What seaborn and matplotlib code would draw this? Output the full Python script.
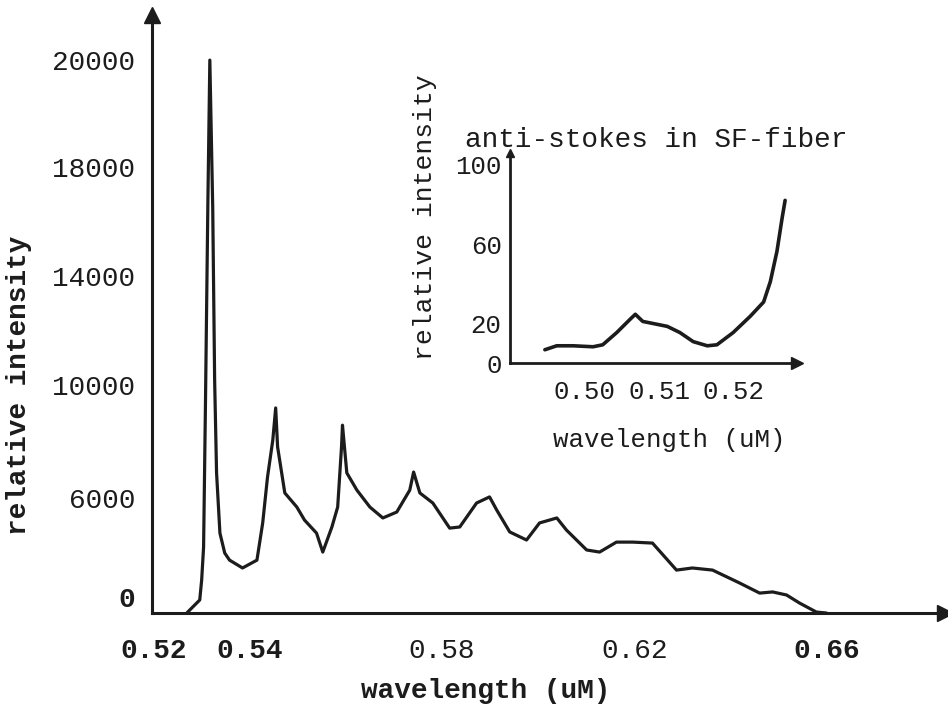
import numpy as np
import pandas as pd
import seaborn as sns
import matplotlib
matplotlib.use("Agg")
from matplotlib import pyplot as plt
from matplotlib import transforms

# main spectrum (stokes side)
wavelength = [0.5269, 0.5296, 0.5300, 0.5304, 0.5308, 0.5313, 0.5317, 0.5323, 0.5327,
              0.5331, 0.5338, 0.5348, 0.5358, 0.5385, 0.5415, 0.5427, 0.5437, 0.5448,
              0.5454, 0.5458, 0.5473, 0.5498, 0.5514, 0.5539, 0.5552, 0.5571, 0.5583,
              0.5591, 0.5593, 0.5602, 0.5623, 0.5650, 0.5677, 0.5706, 0.5733, 0.5741,
              0.5754, 0.5781, 0.5816, 0.5837, 0.5872, 0.5899, 0.5914, 0.5941, 0.5976,
              0.6003, 0.6039, 0.6059, 0.6101, 0.6128, 0.6163, 0.6197, 0.6238, 0.6288,
              0.6321, 0.6363, 0.6419, 0.6461, 0.6488, 0.6517, 0.6544, 0.6579, 0.6600]
intensity = [0, 680, 1720, 3440, 9470, 16790, 20000, 16530, 10180,
             6890, 4170, 3130, 2760, 2350, 2760, 4700, 6740, 8050,
             9190, 7810, 6180, 5530, 4850, 4170, 3180, 4490, 5530,
             7810, 8580, 6890, 6280, 5530, 4960, 5270, 6280, 6920,
             6180, 5740, 4430, 4490, 5740, 6040, 5370, 4230, 3810,
             4700, 4960, 4330, 3290, 3180, 3700, 3700, 3650, 2240,
             2350, 2240, 1570, 1040, 1100, 940, 520, 50, 0]

# inset: anti-stokes in SF-fiber
as_wavelength = [0.4946, 0.4962, 0.4984, 0.5011, 0.5024, 0.5043, 0.5061, 0.5068, 0.5078,
                 0.5111, 0.5128, 0.5146, 0.5165, 0.5178, 0.5200, 0.5223, 0.5241, 0.5250,
                 0.5259, 0.5266, 0.5270]
as_intensity = [6.7, 8.7, 8.7, 8.2, 9.2, 15.4, 22.1, 24.6, 21.0,
                18.5, 15.4, 10.8, 8.7, 9.2, 15.4, 23.6, 30.8, 41.0,
                56.4, 73.3, 82.1]

x_ticks = [0.52, 0.54, 0.58, 0.62, 0.66]
x_tick_labels = ["0.52", "0.54", "0.58", "0.62", "0.66"]
y_ticks = [0, 6000, 10000, 14000, 18000, 20000]
y_tick_labels = ["0", "6000", "10000", "14000", "18000", "20000"]
inset_x_ticks = [0.50, 0.51, 0.52]
inset_y_ticks = [0, 20, 40, 60, 80, 100]
inset_y_labels = ["0", "20", "", "60", "", "100"]

# the hand drawn y axis has evenly spaced labels that are not evenly spaced values
scale_vals = np.array([0, 6000, 10000, 14000, 18000, 20000, 22000], dtype=float)
scale_pos = np.array([0, 115, 228, 337, 446, 553, 660], dtype=float)


def fwd(v):
    return np.interp(v, scale_vals, scale_pos)


def inv(p):
    return np.interp(p, scale_pos, scale_vals)


sns.set_style("white")
plt.rcParams['font.family'] = ['Liberation Mono', 'DejaVu Sans Mono']
plt.rcParams['axes.linewidth'] = 2.2

ink = "#1c1c1c"
fs = 20

fig = plt.figure(figsize=(9.48, 7.1), dpi=100)
ax = fig.add_axes([0.160, 0.1366, 0.8365, 0.842])

df = pd.DataFrame({"wavelength": wavelength, "intensity": intensity})
sns.lineplot(data=df, x="wavelength", y="intensity", ax=ax, color=ink,
             linewidth=2.3, estimator=None, sort=False)

ax.set_yscale("function", functions=(fwd, inv))
ax.set_xlim(0.5196, 0.6846)
ax.set_ylim(0, 20840)
ax.set_xticks(x_ticks)
ax.set_xticklabels(x_tick_labels, fontsize=fs)
ax.set_yticks(y_ticks)
ax.set_yticklabels(y_tick_labels, fontsize=fs)
ax.minorticks_off()
ax.tick_params(axis="x", direction="in", length=9, width=2, pad=18, colors=ink)
ax.tick_params(axis="y", direction="in", length=9, width=2, pad=12, colors=ink)
for lbl in ax.get_xticklabels():
    if lbl.get_text() in ("0.52", "0.54", "0.66"):
        lbl.set_fontweight("bold")
# the "0" label sits a little above the x axis in the scan
zero_lbl = ax.get_yticklabels()[0]
zero_lbl.set_fontweight("bold")
zero_lbl.set_transform(zero_lbl.get_transform()
                       + transforms.ScaledTranslation(0, 16 / 100, fig.dpi_scale_trans))
for sp in ["top", "right"]:
    ax.spines[sp].set_visible(False)
for sp in ["left", "bottom"]:
    ax.spines[sp].set_color(ink)

ax.set_xlabel("wavelength (uM)", fontsize=fs, fontweight="bold", color=ink)
ax.set_ylabel("relative intensity", fontsize=fs, fontweight="bold", color=ink)
ax.xaxis.set_label_coords(0.421, -0.109)
ax.yaxis.set_label_coords(-0.151, 0.381)

# axis arrow heads
ax.plot(1, 0, ">", color=ink, markersize=12, transform=ax.transAxes, clip_on=False)
ax.plot(0, 1, "^", color=ink, markersize=12, transform=ax.transAxes, clip_on=False)

# inset
ins = fig.add_axes([0.538, 0.4887, 0.3027, 0.2958])
ins.patch.set_alpha(0)
df_as = pd.DataFrame({"wavelength": as_wavelength, "intensity": as_intensity})
sns.lineplot(data=df_as, x="wavelength", y="intensity", ax=ins, color=ink,
             linewidth=2.6, estimator=None, sort=False)
ins.set_xlim(0.4899, 0.5286)
ins.set_ylim(0, 106)
ins.set_xticks(inset_x_ticks)
ins.set_xticklabels(["%.2f" % t for t in inset_x_ticks], fontsize=18.5)
ins.set_yticks(inset_y_ticks)
ins.set_yticklabels(inset_y_labels, fontsize=18.5)
ins.tick_params(axis="x", direction="in", length=6, width=1.6, pad=12, colors=ink)
ins.tick_params(axis="y", direction="in", length=7, width=2, pad=6, colors=ink)
for sp in ["top", "right"]:
    ins.spines[sp].set_visible(False)
for sp in ["left", "bottom"]:
    ins.spines[sp].set_color(ink)
    ins.spines[sp].set_linewidth(2)
ins.set_xlabel("wavelength (uM)", fontsize=18.5, color=ink)
ins.set_ylabel("relative intensity", fontsize=19, color=ink)
ins.xaxis.set_label_coords(0.554, -0.31)
ins.yaxis.set_label_coords(-0.254, 0.695)
ins.text(-0.157, 1.062, "anti-stokes in SF-fiber", transform=ins.transAxes,
         fontsize=fs, color=ink, ha="left", va="center")
ins.plot(1, 0, ">", color=ink, markersize=8, transform=ins.transAxes, clip_on=False)
ins.plot(0, 1, "^", color=ink, markersize=6, transform=ins.transAxes, clip_on=False)

fig.savefig("out.png", dpi=100)
